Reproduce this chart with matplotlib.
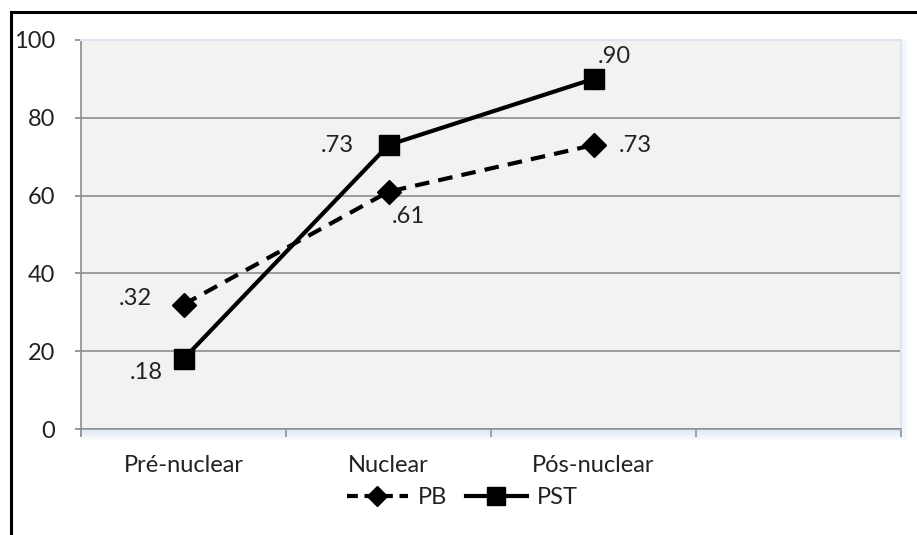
import matplotlib
matplotlib.use("Agg")
import matplotlib.pyplot as plt
from matplotlib.lines import Line2D
from matplotlib.patches import Rectangle

categories = ["Pré-nuclear", "Nuclear", "Pós-nuclear"]
pb_values = [32, 61, 73]
pst_values = [18, 73, 90]
pb_labels = [".32", ".61", ".73"]
pst_labels = [".18", ".73", ".90"]
y_ticks = [0, 20, 40, 60, 80, 100]

plt.rcParams["font.family"] = ["Lato", "DejaVu Sans"]
FS = 17

fig = plt.figure(figsize=(9.17, 5.35), dpi=100)
ax = fig.add_axes([81 / 917, 1 - 429 / 535, 820 / 917, 389 / 535])
ax.set_facecolor("#f2f2f2")

x = list(range(len(categories)))
ax.plot(x, pb_values, color="black", lw=3, dashes=(3.5, 2.2), marker="D", ms=12,
        label="PB", zorder=4)
ax.plot(x, pst_values, color="black", lw=3, marker="s", ms=15, label="PST", zorder=5)

# data labels (offsets in points)
pb_off = [(-35, 4), (14, -18), (30, 0)]
pst_off = [(-27, -10), (-37, 0), (15, 16)]
for xi, v, t, o in zip(x, pb_values, pb_labels, pb_off):
    ax.annotate(t, (xi, v), xytext=o, textcoords="offset points", fontsize=FS,
                ha="center", va="center", color="#222222")
for xi, v, t, o in zip(x, pst_values, pst_labels, pst_off):
    ax.annotate(t, (xi, v), xytext=o, textcoords="offset points", fontsize=FS,
                ha="center", va="center", color="#222222")

ax.set_xlim(-0.5, 3.5)
ax.set_ylim(0, 100)
ax.set_yticks(y_ticks)
ax.set_xticks([-0.5, 0.5, 1.5, 2.5, 3.5])
ax.set_xticklabels([])
ax.set_xticks(x, minor=True)
ax.set_xticklabels(categories, minor=True, fontsize=FS, color="#222222")
ax.tick_params(axis="x", which="minor", length=0, pad=19)
ax.tick_params(axis="x", which="major", length=6, color="#888888", width=1.2)
ax.tick_params(axis="y", length=4.5, color="#888888", width=1.2, labelsize=FS, pad=14,
               labelcolor="#222222")
ax.grid(axis="y", color="#8c8c8c", lw=1.2)
ax.set_axisbelow(True)

for s in ["top", "right"]:
    ax.spines[s].set_color("#dce6f2")
    ax.spines[s].set_linewidth(1.5)
for s in ["left", "bottom"]:
    ax.spines[s].set_color("#8c8c8c")
    ax.spines[s].set_linewidth(1.2)

# soft blue shadow under the x axis and at the right edge
for i in range(8):
    a = 0.35 * (1 - i / 8)
    fig.add_artist(Rectangle((82 / 917, 1 - (430 + i * 1.5) / 535), 820 / 917, 1.5 / 535,
                             transform=fig.transFigure, color="#9dbbe0", alpha=a, lw=0))
for i in range(5):
    a = 0.25 * (1 - i / 5)
    fig.add_artist(Rectangle(((902 + i * 1.2) / 917, 1 - 440 / 535), 1.2 / 917, 400 / 535,
                             transform=fig.transFigure, color="#c6d7ee", alpha=a, lw=0))

# outer frame (top and left edges visible)
fig.add_artist(Line2D([11 / 917, 1], [1 - 12 / 535, 1 - 12 / 535],
                      transform=fig.transFigure, color="black", lw=2.2))
fig.add_artist(Line2D([11 / 917, 11 / 917], [0, 1 - 12 / 535],
                      transform=fig.transFigure, color="black", lw=2.2))

leg_handles = [
    Line2D([], [], color="black", lw=3, dashes=(2.6, 1.6), marker="D", ms=10),
    Line2D([], [], color="black", lw=3, marker="s", ms=13),
]
fig.legend(leg_handles, ["PB", "PST"], loc="center", bbox_to_anchor=(462 / 917, 1 - 498 / 535),
           ncol=2, frameon=False, fontsize=FS, handlelength=2.6, columnspacing=0.8,
           handletextpad=0.4, labelcolor="#222222")

fig.savefig("out.png", dpi=100)
